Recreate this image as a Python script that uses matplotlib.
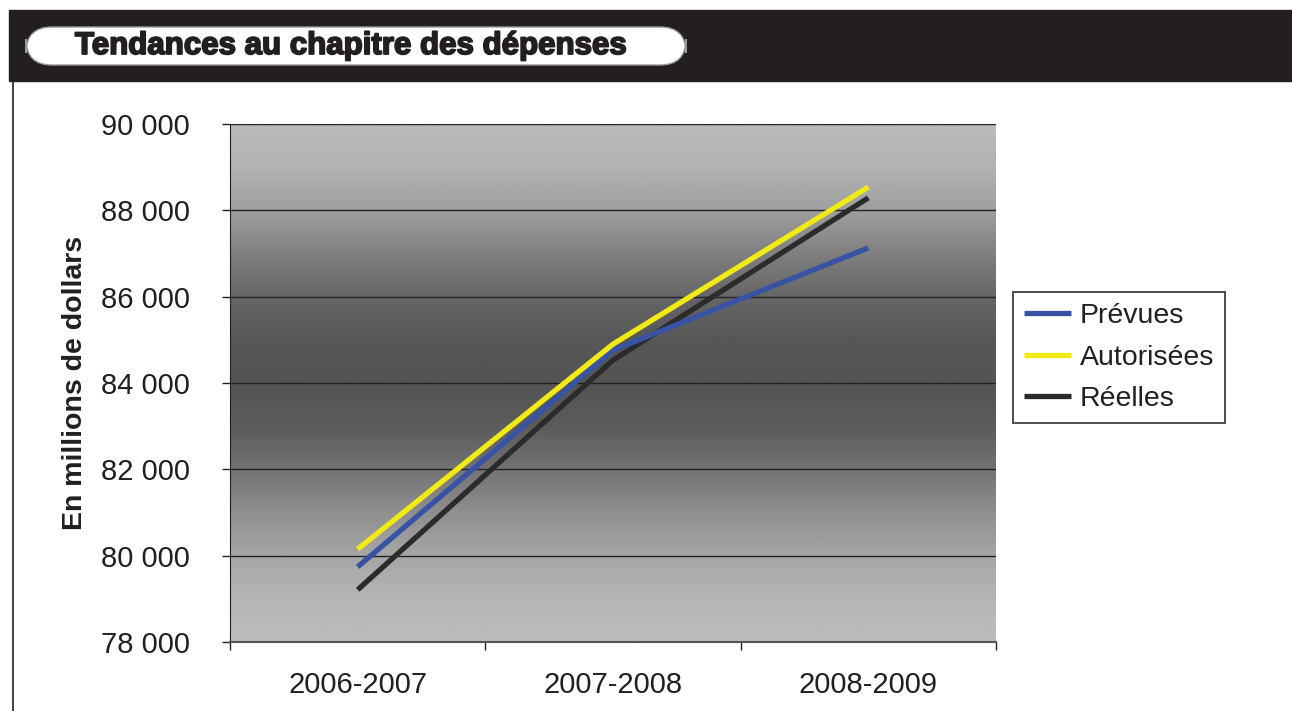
import matplotlib.pyplot as plt
import numpy as np
from matplotlib.patches import Rectangle, FancyBboxPatch
from matplotlib.lines import Line2D
import matplotlib.patheffects as pe

plt.rcParams['font.family'] = ['Liberation Sans', 'DejaVu Sans']

periods = ["2006-2007", "2007-2008", "2008-2009"]
prevues = [79740, 84760, 87130]
autorisees = [80150, 84900, 88540]
reelles = [79210, 84530, 88290]
yticks = [78000, 80000, 82000, 84000, 86000, 88000, 90000]
ylabels = ["78 000", "80 000", "82 000", "84 000", "86 000", "88 000", "90 000"]

W, H = 1292, 711
fig = plt.figure(figsize=(W / 100, H / 100), dpi=100)

# header band and title pill
fig.patches.append(Rectangle((9 / W, 1 - 81 / H), 1 - 9 / W, 71 / H,
                             transform=fig.transFigure, color="#231f20", zorder=0))
fig.patches.append(FancyBboxPatch((26 / W, 1 - 65 / H), 660 / W, 38 / H,
                                  boxstyle="round,pad=0,rounding_size=0.02",
                                  mutation_aspect=W / H,
                                  transform=fig.transFigure, facecolor="white",
                                  edgecolor="#999999", lw=1, zorder=1))
fig.text(75 / W, 1 - 46 / H, "Tendances au chapitre des dépenses", fontsize=22.5,
         fontweight="bold", va="center", ha="left", color="#231f20",
         path_effects=[pe.withStroke(linewidth=1.3, foreground="#231f20")])
fig.lines.append(Line2D([12.5 / W, 12.5 / W], [0, 1 - 81 / H], transform=fig.transFigure,
                        color="#231f20", lw=1.2))

ax = fig.add_axes([230 / W, 1 - 642 / H, 766 / W, 518 / H])

# gradient background
prof = np.array([0.73, 0.70, 0.62, 0.50, 0.40, 0.34, 0.33, 0.36, 0.45, 0.56, 0.65, 0.71, 0.74])
ys = np.linspace(0, 1, len(prof))
yy = np.linspace(0, 1, 300)
grad = np.interp(yy, ys, prof)[:, None]
ax.imshow(grad, extent=[-0.5, 2.5, 78000, 90000], aspect="auto", cmap="gray",
          vmin=0, vmax=1, origin="upper", zorder=0)

for v in yticks:
    ax.axhline(v, color="#222222", lw=1.0, zorder=1)

x = np.arange(len(periods))
ax.plot(x, prevues, color="#3953a4", lw=3.8, label="Prévues", zorder=3, solid_capstyle="butt")
ax.plot(x, autorisees, color="#f2ea14", lw=3.8, label="Autorisées", zorder=4, solid_capstyle="butt")
ax.plot(x, reelles, color="#2b2b2b", lw=3.8, label="Réelles", zorder=2, solid_capstyle="butt")

ax.set_xlim(-0.5, 2.5)
ax.set_ylim(78000, 90000)
ax.set_yticks(yticks)
ax.set_yticklabels(ylabels, fontsize=21, color="#231f20")
ax.tick_params(axis="y", length=6, width=1, pad=23, colors="#231f20")
ax.set_xticks([-0.5, 0.5, 1.5, 2.5])
ax.set_xticklabels([])
ax.tick_params(axis="x", which="major", length=6, width=1, colors="#231f20")
ax.set_xticks(x, minor=True)
ax.set_xticklabels(periods, minor=True, fontsize=21, color="#231f20")
ax.tick_params(axis="x", which="minor", length=0, pad=21)

for s in ["top", "right"]:
    ax.spines[s].set_visible(False)
ax.spines["left"].set_color("#231f20")
ax.spines["bottom"].set_color("#555555")
ax.spines["bottom"].set_linewidth(1.5)

ax.set_ylabel("En millions de dollars", fontsize=20.5, fontweight="bold", color="#231f20")
ax.yaxis.set_label_coords(-0.185, 0.5)

leg = ax.legend(loc="center left", bbox_to_anchor=(1013 / W, 1 - 422 / H, 220 / W, 129 / H),
                bbox_transform=fig.transFigure, fontsize=20.5, frameon=True, fancybox=False,
                handlelength=1.65, handletextpad=0.32, labelspacing=0.56, borderpad=0.38,
                borderaxespad=0)
leg.get_frame().set_edgecolor("#231f20")
leg.get_frame().set_linewidth(1.4)
for t in leg.get_texts():
    t.set_color("#231f20")

fig.savefig("out.png", dpi=100)
